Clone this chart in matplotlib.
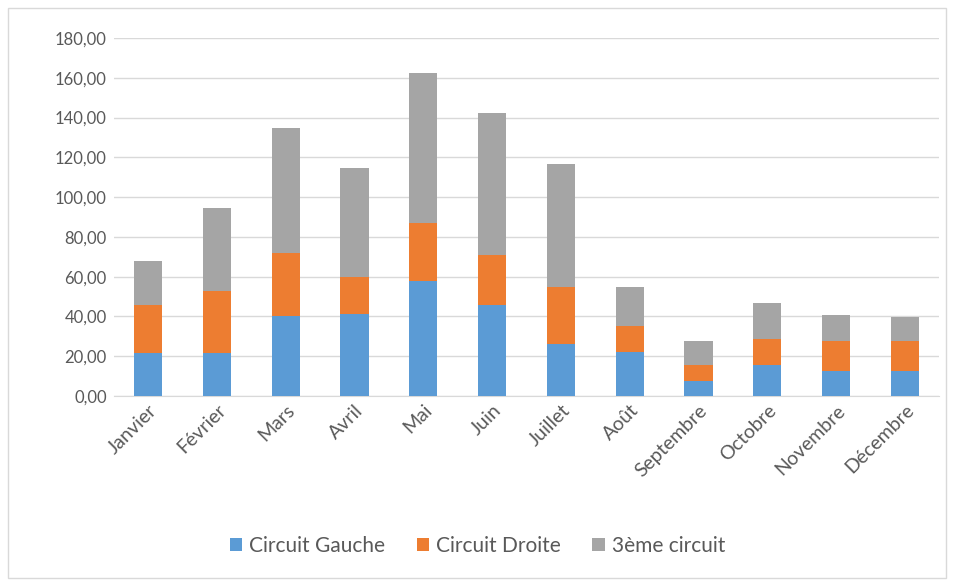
import matplotlib
matplotlib.use("Agg")
import matplotlib.pyplot as plt
from matplotlib.patches import Rectangle
from matplotlib.ticker import FuncFormatter
import numpy as np

plt.rcParams['font.family'] = ['Lato', 'DejaVu Sans']

months = ["Janvier", "Février", "Mars", "Avril", "Mai", "Juin", "Juillet",
          "Août", "Septembre", "Octobre", "Novembre", "Décembre"]
circuit_gauche = [21.8, 21.8, 40, 41, 58, 46, 26, 22, 7.7, 15.8, 12.8, 12.8]
circuit_droite = [24, 31, 32, 19, 29, 25, 29, 13, 8, 13, 15, 15]
troisieme = [22, 41.5, 62.5, 54.5, 75.5, 71.5, 61.5, 20, 12, 18, 13, 12]
series_names = ["Circuit Gauche", "Circuit Droite", "3ème circuit"]
colors = ["#5B9BD5", "#ED7D31", "#A5A5A5"]
yticks = [0, 20, 40, 60, 80, 100, 120, 140, 160, 180]

W, H = 955, 581
fig = plt.figure(figsize=(W / 100, H / 100), dpi=100)
ax = fig.add_axes([113.6 / W, 1 - 396 / H, (939.4 - 113.6) / W, (396 - 38) / H])

x = np.arange(len(months))
bottom = np.zeros(len(months))
for vals, name, c in zip([circuit_gauche, circuit_droite, troisieme], series_names, colors):
    ax.bar(x, vals, bottom=bottom, width=0.41, color=c, label=name, zorder=3)
    bottom += np.array(vals)

ax.set_xlim(-0.5, len(months) - 0.5)
ax.set_ylim(0, 180)
ax.set_yticks(yticks)
ax.yaxis.set_major_formatter(FuncFormatter(lambda v, p: f"{v:.2f}".replace(".", ",")))
ax.grid(axis='y', color='#D9D9D9', linewidth=1, zorder=0)
for s in ['top', 'right', 'left']:
    ax.spines[s].set_visible(False)
ax.spines['bottom'].set_color('#D9D9D9')
ax.tick_params(axis='both', length=0, colors='#595959')
ax.tick_params(axis='y', pad=5, labelsize=12)
ax.tick_params(axis='x', pad=4, labelsize=14)
ax.set_xticks(x)
ax.set_xticklabels(months, rotation=45, ha='right', rotation_mode='anchor')

fig.legend(loc='center', bbox_to_anchor=(0.5, 1 - 546 / H), ncol=3, frameon=False,
           fontsize=15, handlelength=0.6, handleheight=0.6, handletextpad=0.35,
           columnspacing=1.5, labelcolor='#595959')

fig.patches.append(Rectangle((8 / W, 1 - 578 / H), (946 - 8) / W, (578 - 8) / H,
                             transform=fig.transFigure, fill=False,
                             edgecolor='#D9D9D9', linewidth=1))

fig.savefig("out.png", dpi=100)
